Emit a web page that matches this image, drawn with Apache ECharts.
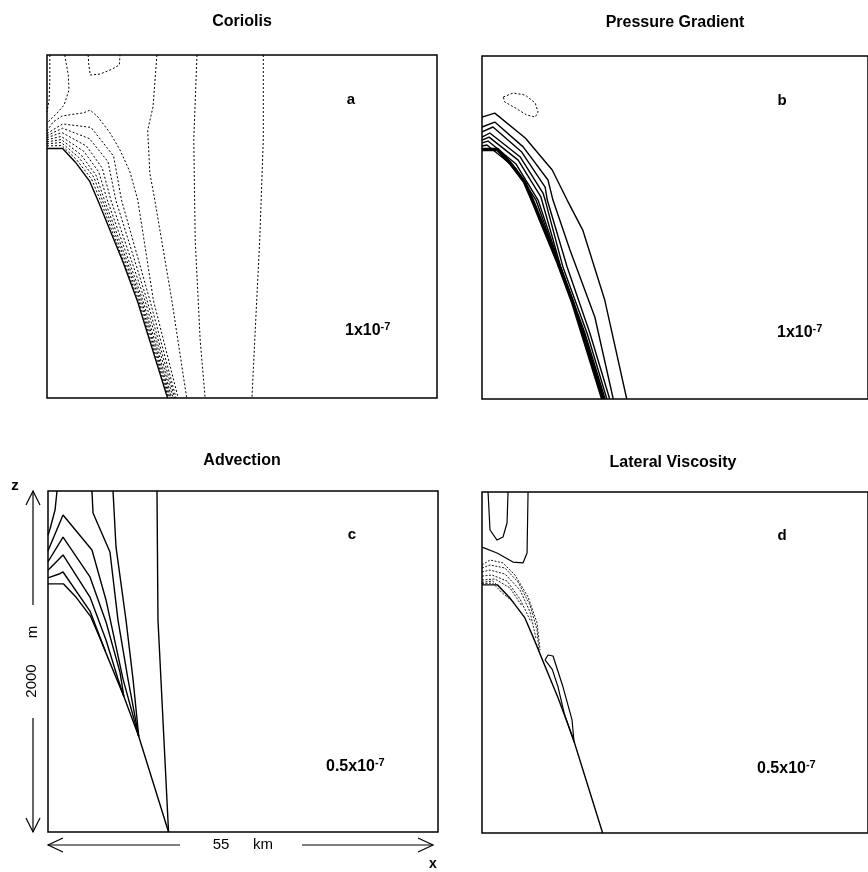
<!DOCTYPE html>
<html>
<head>
<meta charset="utf-8"/>
<script src="https://cdn.jsdelivr.net/npm/echarts@6/dist/echarts.min.js"></script>
<style>
  html, body { margin: 0; padding: 0; background: #fff; }
  #container { width: 868px; height: 872px; }
</style>
</head>
<body>
<div id="container"></div>
<script type="text/javascript">
    // section geometry: x in km (0..55), z in m above bottom (0..2000)
    var topoX = [0, 2.2, 4.0, 6.0, 7.3, 8.1, 10.7, 12.8, 17.0];
    var topoZ = [1455, 1455, 1375, 1265, 1140, 1058, 795, 560, 0];

    // a: Coriolis (all dashed)
    var coriolisX = [
        [5.8, 5.9, 6.1, 7.5, 9.2, 10.2, 10.3],
        [0.4, 0.4, 0.3, 0],
        [2.5, 3.0, 3.1, 2.4, 1.3, 0.4, 0],
        [0, 2.1, 4.2, 6.3, 7.5, 12.9, 17.15],
        [0, 2.0, 4.5, 6.6, 7.8, 13.1, 17.3],
        [0, 2.0, 4.8, 6.9, 8.1, 13.3, 17.45],
        [0, 2.0, 5.2, 7.3, 8.5, 13.5, 17.6],
        [0, 2.1, 5.6, 7.8, 9.0, 13.8, 17.8],
        [0, 2.2, 6.0, 8.6, 9.7, 14.1, 18.0],
        [0, 2.2, 6.2, 9.4, 10.5, 14.5, 18.2],
        [0, 0.85, 2.1, 3.95, 5.1, 6.1, 7.2, 8.9, 10.3, 11.7, 12.8, 15.0, 18.5],
        [15.5, 14.95, 14.2, 14.5, 15.2, 17.6, 19.7],
        [21.15, 20.7, 20.9, 21.6, 22.3],
        [30.5, 30.5, 30.0, 29.3, 28.9]
    ];
    var coriolisZ = [
        [2000, 1942, 1883, 1889, 1918, 1942, 2000],
        [2000, 1854, 1738, 1668],
        [2000, 1883, 1796, 1708, 1656, 1621, 1598],
        [1470, 1472, 1388, 1275, 1155, 571, 0],
        [1482, 1490, 1402, 1288, 1155, 571, 0],
        [1494, 1507, 1418, 1300, 1155, 571, 0],
        [1506, 1525, 1438, 1318, 1155, 571, 0],
        [1518, 1548, 1468, 1340, 1155, 571, 0],
        [1530, 1573, 1512, 1378, 1155, 571, 0],
        [1542, 1598, 1578, 1410, 1155, 571, 0],
        [1557, 1609, 1644, 1656, 1662, 1679, 1638, 1545, 1446, 1318, 1155, 571, 0],
        [2000, 1697, 1563, 1312, 1155, 571, 0],
        [2000, 1504, 921, 338, 0],
        [2000, 1504, 921, 338, 0]
    ];

    // b: Pressure Gradient
    var pressureX = [
        [0, 1.8, 6.1, 9.9, 12.0, 14.2, 17.3, 20.4],
        [0, 1.8, 5.8, 9.3, 10.0, 12.4, 15.9, 18.5],
        [0, 1.55, 5.6, 8.9, 9.2, 12.0, 15.2, 18.0],
        [0, 1.1, 5.4, 8.6, 8.9, 11.4, 14.8, 17.6],
        [0, 1.0, 5.1, 8.3, 11.1, 14.5, 17.35],
        [0, 0.85, 4.8, 7.9, 11.05, 14.35, 17.2],
        [0, 0.7, 4.7, 7.6, 10.98, 14.25, 17.1]
    ];
    var pressureZ = [
        [1644, 1667, 1522, 1335, 1160, 985, 577, 0],
        [1586, 1615, 1470, 1277, 1160, 869, 478, 0],
        [1557, 1586, 1440, 1236, 1160, 770, 385, 0],
        [1527, 1551, 1411, 1201, 1160, 770, 385, 0],
        [1510, 1527, 1393, 1178, 770, 385, 0],
        [1493, 1504, 1370, 1160, 770, 385, 0],
        [1475, 1481, 1347, 1160, 770, 385, 0]
    ];
    var pressureNegX = [[3.0, 4.4, 6.1, 7.5, 7.9, 7.5, 6.3, 4.7, 3.2, 3.0]];
    var pressureNegZ = [[1761, 1784, 1772, 1726, 1673, 1644, 1656, 1697, 1732, 1761]];

    // c: Advection (solid)
    var advectionX = [
        [0, 1.55, 2.12, 5.92, 8.1],
        [0, 2.12, 5.92, 8.18, 9.87, 10.7],
        [0, 2.12, 5.92, 8.18, 10.15, 10.7],
        [0, 2.12, 6.2, 8.18, 10.58, 12.8],
        [6.2, 6.35, 8.74, 9.87, 11.28, 12.8],
        [9.17, 9.59, 11.0, 11.99, 12.8],
        [15.37, 15.51, 17.0],
        [1.27, 1.0, 0.3, 0]
    ];
    var advectionZ = [
        [1490, 1513, 1525, 1296, 1058],
        [1535, 1625, 1378, 1126, 897, 795],
        [1585, 1730, 1496, 1232, 938, 795],
        [1650, 1859, 1654, 1361, 897, 560],
        [2000, 1871, 1642, 1243, 897, 560],
        [2000, 1672, 1243, 897, 560],
        [2000, 1243, 0],
        [2000, 1890, 1780, 1740]
    ];

    // d: Lateral Viscosity
    var viscX = [
        [0.85, 1.13, 2.12, 2.96, 3.53, 3.67],
        [0, 2.12, 4.37, 5.78, 6.35, 6.49],
        [8.88, 9.31, 10.01, 11.42, 12.69, 12.97, 11.6, 10.72, 9.9, 8.88]
    ];
    var viscZ = [
        [2000, 1777, 1718, 1736, 1818, 2000],
        [1677, 1642, 1589, 1584, 1642, 2000],
        [1015, 1044, 1038, 856, 663, 534, 700, 856, 960, 1015]
    ];
    var viscNegX = [
        [0, 1.13, 2.96, 4.65, 6.49, 7.76, 8.18],
        [0, 1.13, 3.24, 5.08, 6.77, 7.76, 8.04],
        [0, 1.13, 3.24, 5.36, 6.77, 7.6],
        [0, 1.41, 3.53, 5.36, 6.9],
        [0, 1.83, 3.95, 5.64],
        [0, 1.5, 3.0, 4.5],
        [0, 1.5, 2.8, 4.2]
    ];
    var viscNegZ = [
        [1572, 1601, 1584, 1513, 1384, 1232, 1073],
        [1554, 1572, 1554, 1472, 1337, 1191, 1062],
        [1531, 1542, 1519, 1425, 1296, 1144],
        [1507, 1513, 1478, 1372, 1237],
        [1484, 1490, 1437, 1331],
        [1470, 1478, 1420, 1350],
        [1462, 1466, 1410, 1362]
    ];

    var titles = ['Coriolis', 'Pressure Gradient', 'Advection', 'Lateral Viscosity'];
    var letters = ['a', 'b', 'c', 'd'];
    var scales = ['1x10', '1x10', '0.5x10', '0.5x10'];

    var FONT = 'Liberation Sans, Arial, sans-serif';
    var series = [];

    function addLines(xs, zs, idx, style) {
        for (var i = 0; i < xs.length; i++) {
            var pts = [];
            for (var j = 0; j < xs[i].length; j++) {
                pts.push([xs[i][j], zs[i][j]]);
            }
            series.push({
                type: 'line',
                xAxisIndex: idx,
                yAxisIndex: idx,
                data: pts,
                symbol: 'none',
                silent: true,
                animation: false,
                lineStyle: style
            });
        }
    }

    var dashA = {color: '#000', width: 1, type: [2, 2]};
    var solid = {color: '#000', width: 1.4, type: 'solid'};
    var dashD = {color: '#000', width: 0.9, type: [2, 1.5]};

    addLines([topoX], [topoZ], 0, {color: '#000', width: 1.4});
    addLines(coriolisX, coriolisZ, 0, dashA);
    addLines([topoX], [topoZ], 1, {color: '#000', width: 3.5});
    addLines(pressureX, pressureZ, 1, solid);
    addLines(pressureNegX, pressureNegZ, 1, {color: '#000', width: 1, type: [2, 2]});
    addLines([topoX], [topoZ], 2, solid);
    addLines(advectionX, advectionZ, 2, solid);
    addLines([topoX], [topoZ], 3, solid);
    addLines(viscX, viscZ, 3, {color: '#000', width: 1.2});
    addLines(viscNegX, viscNegZ, 3, dashD);

    var grids = [
        {left: 47, top: 55, width: 390, height: 343},
        {left: 482, top: 56, width: 386, height: 343},
        {left: 48, top: 491, width: 390, height: 341},
        {left: 482, top: 492, width: 386, height: 341}
    ];
    var xMax = [55, 54.4, 55, 54.4];
    var xAxes = [], yAxes = [];
    for (var g = 0; g < 4; g++) {
        grids[g].show = true;
        grids[g].borderColor = '#000';
        grids[g].borderWidth = 1.5;
        grids[g].backgroundColor = 'transparent';
        xAxes.push({gridIndex: g, type: 'value', min: 0, max: xMax[g], show: false});
        yAxes.push({gridIndex: g, type: 'value', min: 0, max: 2000, show: false});
    }

    var titlePos = [[242, 22], [675, 23], [242, 461], [673, 463]];
    var letterPos = [[351, 100], [782, 101], [352, 535], [782, 536]];
    var scalePos = [[345, 331], [777, 333], [326, 767], [757, 769]];

    var graphics = [];
    for (var p = 0; p < 4; p++) {
        graphics.push({
            type: 'text', x: titlePos[p][0], y: titlePos[p][1],
            style: {text: titles[p], font: 'bold 16px ' + FONT, fill: '#000', align: 'center', verticalAlign: 'middle'}
        });
        graphics.push({
            type: 'text', x: letterPos[p][0], y: letterPos[p][1],
            style: {text: letters[p], font: 'bold 15px ' + FONT, fill: '#000', align: 'center', verticalAlign: 'middle'}
        });
        graphics.push({
            type: 'text', x: scalePos[p][0], y: scalePos[p][1],
            style: {
                text: '{m|' + scales[p] + '}{s|-7}',
                verticalAlign: 'middle',
                rich: {
                    m: {font: 'bold 16px ' + FONT, fill: '#000', lineHeight: 20},
                    s: {font: 'bold 11px ' + FONT, fill: '#000', verticalAlign: 'top', lineHeight: 12}
                }
            }
        });
    }

    var ln = {stroke: '#000', lineWidth: 1.2, fill: null};
    // z axis annotation
    graphics.push({type: 'text', x: 15, y: 486, style: {text: 'z', font: 'bold 15px ' + FONT, fill: '#000', align: 'center', verticalAlign: 'middle'}});
    graphics.push({type: 'line', shape: {x1: 33, y1: 491, x2: 33, y2: 605}, style: ln});
    graphics.push({type: 'polyline', shape: {points: [[26, 505], [33, 491], [40, 505]]}, style: ln});
    graphics.push({type: 'text', x: 33, y: 632, rotation: Math.PI / 2, style: {text: 'm', font: '15px ' + FONT, fill: '#000', align: 'center', verticalAlign: 'middle'}});
    graphics.push({type: 'text', x: 32, y: 681, rotation: Math.PI / 2, style: {text: '2000', font: '15px ' + FONT, fill: '#000', align: 'center', verticalAlign: 'middle'}});
    graphics.push({type: 'line', shape: {x1: 33, y1: 718, x2: 33, y2: 832}, style: ln});
    graphics.push({type: 'polyline', shape: {points: [[26, 818], [33, 832], [40, 818]]}, style: ln});
    // x axis annotation
    graphics.push({type: 'line', shape: {x1: 48, y1: 845, x2: 180, y2: 845}, style: ln});
    graphics.push({type: 'polyline', shape: {points: [[63, 838], [48, 845], [63, 852]]}, style: ln});
    graphics.push({type: 'text', x: 221, y: 845, style: {text: '55', font: '15px ' + FONT, fill: '#000', align: 'center', verticalAlign: 'middle'}});
    graphics.push({type: 'text', x: 263, y: 845, style: {text: 'km', font: '15px ' + FONT, fill: '#000', align: 'center', verticalAlign: 'middle'}});
    graphics.push({type: 'line', shape: {x1: 302, y1: 845, x2: 433, y2: 845}, style: ln});
    graphics.push({type: 'polyline', shape: {points: [[418, 838], [433, 845], [418, 852]]}, style: ln});
    graphics.push({type: 'text', x: 433, y: 864, style: {text: 'x', font: 'bold 14px ' + FONT, fill: '#000', align: 'center', verticalAlign: 'middle'}});

    var dom = document.getElementById('container');
    var myChart = echarts.init(dom);
    var option = {
        animation: false,
        backgroundColor: '#fff',
        grid: grids,
        xAxis: xAxes,
        yAxis: yAxes,
        series: series,
        graphic: graphics
    };
    myChart.setOption(option, true);
</script>
</body>
</html>
